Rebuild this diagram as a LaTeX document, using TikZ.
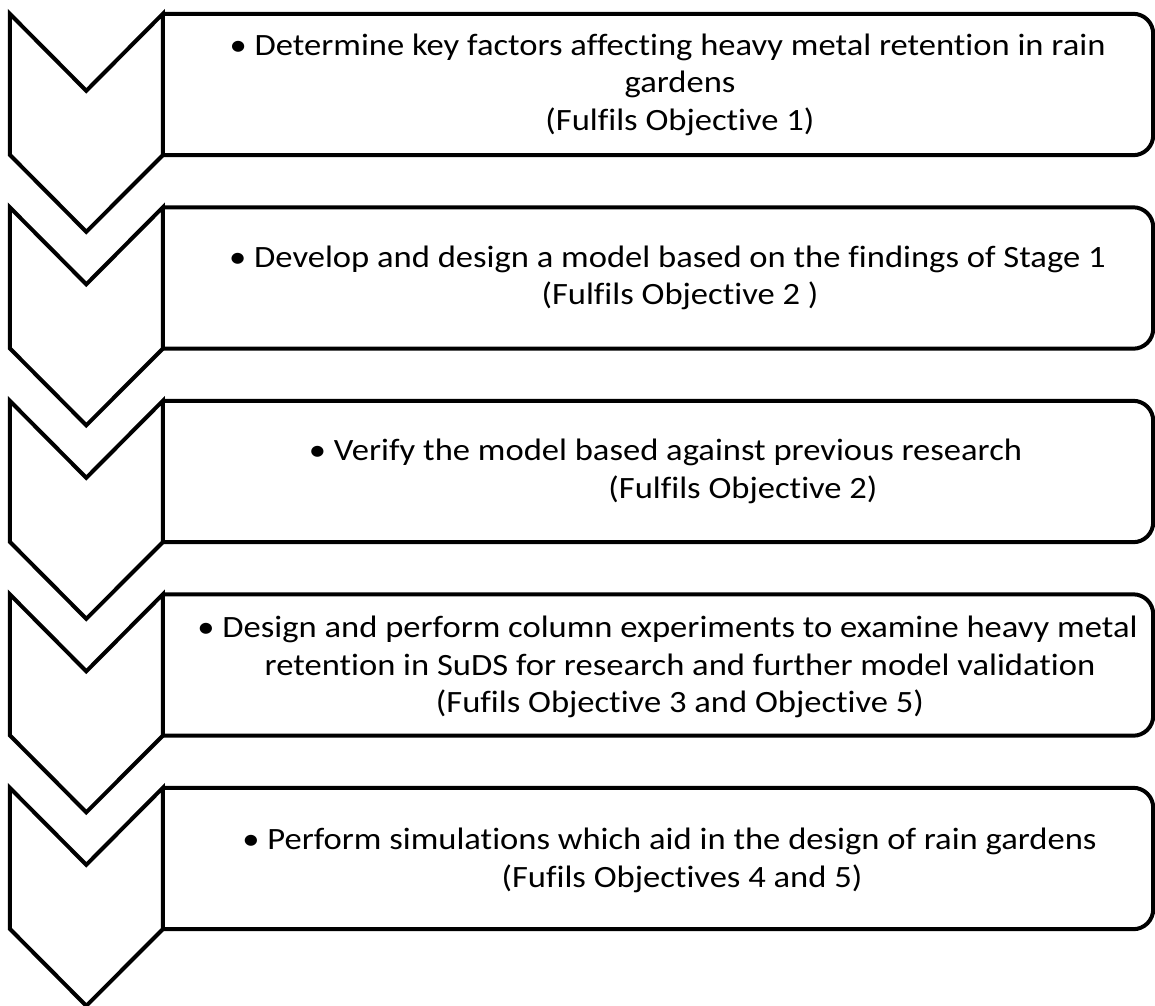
\documentclass[tikz,border=0pt]{standalone}
\usepackage{fontspec}
\setmainfont[Ligatures=NoCommon, FakeStretch=1.115]{Carlito}
\usetikzlibrary{positioning}

\begin{document}
\begin{tikzpicture}[node distance=193.5pt]

			\tikzstyle{stagebox} = [rectangle, minimum width=990pt, minimum height=141pt, inner sep=0pt, draw=none]
			\tikzstyle{stagetext} = [align=center, inner sep=0pt, font=\fontsize{31}{37.5}\selectfont]
			\tikzstyle{outline} = [line width=4pt, line join=miter, draw=black, fill=white]
			\tikzstyle{boxline} = [line width=4pt, draw=black, rounded corners=20pt]

			\useasboundingbox (0,0) rectangle (1155pt,-1005pt);

			% Boxes
			\node (box1) [stagebox] at (658pt,-84.5pt) {};
			\node (box2) [stagebox, below of=box1] {};
			\node (box3) [stagebox, below of=box2] {};
			\node (box4) [stagebox, below of=box3] {};
			\node (box5) [stagebox, below of=box4] {};

			% Chevrons
			\draw [outline] (box1.north west) -- ++(-76.5pt,-77pt) -- ++(-76.5pt,77pt) -- ++(0,-141pt) -- ++(76.5pt,-77pt) -- (box1.south west) -- cycle;
			\draw [outline] (box2.north west) -- ++(-76.5pt,-77pt) -- ++(-76.5pt,77pt) -- ++(0,-141pt) -- ++(76.5pt,-77pt) -- (box2.south west) -- cycle;
			\draw [outline] (box3.north west) -- ++(-76.5pt,-77pt) -- ++(-76.5pt,77pt) -- ++(0,-141pt) -- ++(76.5pt,-77pt) -- (box3.south west) -- cycle;
			\draw [outline] (box4.north west) -- ++(-76.5pt,-77pt) -- ++(-76.5pt,77pt) -- ++(0,-141pt) -- ++(76.5pt,-77pt) -- (box4.south west) -- cycle;
			\draw [outline] (box5.north west) -- ++(-76.5pt,-77pt) -- ++(-76.5pt,77pt) -- ++(0,-141pt) -- ++(76.5pt,-77pt) -- (box5.south west) -- cycle;

			% Box outlines
			\draw [boxline] (box1.north west) -- (box1.north east) -- (box1.south east) -- (box1.south west);
			\draw [boxline] (box2.north west) -- (box2.north east) -- (box2.south east) -- (box2.south west);
			\draw [boxline] (box3.north west) -- (box3.north east) -- (box3.south east) -- (box3.south west);
			\draw [boxline] (box4.north west) -- (box4.north east) -- (box4.south east) -- (box4.south west);
			\draw [boxline] (box5.north west) -- (box5.north east) -- (box5.south east) -- (box5.south west);

			% Texts
			\node (text1) [stagetext] at ([xshift=22pt]box1.center) {\llap{• }Determine key factors affecting heavy metal retention in rain\\ gardens\\ (Fulfils Objective 1)};
			\node (text2) [stagetext] at ([xshift=22pt]box2.center) {\llap{• }Develop and design a model based on the findings of Stage 1\\ (Fulfils Objective 2 )};
			\node (text3) [stagetext] at ([xshift=20pt]box3.center) {\llap{• }Verify the model based against previous research\\ \hspace*{130pt}(Fulfils Objective 2)};
			\node (text4) [stagetext] at ([xshift=22pt,yshift=-2pt]box4.center) {\llap{• }Design and perform column experiments to examine heavy metal\\ retention in SuDS for research and further model validation\\ (Fufils Objective 3 and Objective 5)};
			\node (text5) [stagetext] at ([xshift=24pt,yshift=-2pt]box5.center) {\llap{• }Perform simulations which aid in the design of rain gardens\\ (Fufils Objectives 4 and 5)};

\end{tikzpicture}
\end{document}
